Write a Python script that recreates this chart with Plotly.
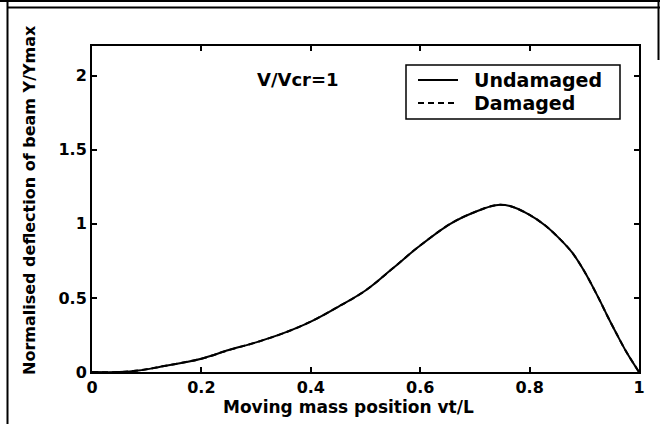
import plotly.graph_objects as go

# data
pos = [0.0, 0.05, 0.085, 0.123, 0.2, 0.25, 0.30, 0.35, 0.40, 0.45, 0.50, 0.55,
       0.597, 0.655, 0.70, 0.738, 0.764, 0.80, 0.828, 0.856, 0.878, 0.90,
       0.926, 0.942, 0.958, 0.977, 1.0]
undamaged = [0.0, 0.0, 0.01, 0.034, 0.09, 0.148, 0.20, 0.262, 0.34, 0.44, 0.55, 0.70,
             0.845, 1.0, 1.08, 1.126, 1.12, 1.06, 0.99, 0.895, 0.805, 0.68,
             0.50, 0.38, 0.265, 0.135, 0.0]
damaged = [0.0, 0.0, 0.01, 0.034, 0.09, 0.148, 0.20, 0.262, 0.34, 0.44, 0.55, 0.70,
           0.845, 1.0, 1.08, 1.126, 1.12, 1.06, 0.99, 0.895, 0.805, 0.68,
           0.50, 0.38, 0.265, 0.135, 0.0]
series_names = ["Undamaged", "Damaged"]
x_ticks = [0, 0.2, 0.4, 0.6, 0.8, 1]
x_tick_text = ["0", "0.2", "0.4", "0.6", "0.8", "1"]
y_ticks = [0, 0.5, 1, 1.5, 2]
y_tick_text = ["0", "0.5", "1", "1.5", "2"]

FONT = "DejaVu Sans"
W, H = 660, 424
L, R, T, B = 92, 639, 46, 372


def px(x):
    return (x - L) / (R - L)


def py(y):
    return (B - y) / (B - T)


fig = go.Figure()
fig.add_trace(go.Scatter(x=pos, y=undamaged, mode="lines", name=series_names[0],
                         line=dict(color="black", width=2, shape="spline", smoothing=1.0)))
fig.add_trace(go.Scatter(x=pos, y=damaged, mode="lines", name=series_names[1],
                         line=dict(color="black", width=2, dash="6px,4px", shape="spline", smoothing=1.0)))

axis_common = dict(showgrid=False, zeroline=False, showline=True, linecolor="black",
                   linewidth=2, mirror="ticks", ticks="inside", ticklen=5,
                   tickwidth=1.5, tickcolor="black",
                   tickfont=dict(family=FONT, size=16, color="black", weight="bold"))

fig.update_xaxes(range=[0, 1], tickvals=x_ticks, ticktext=x_tick_text, **axis_common)
fig.update_yaxes(range=[0, 2.2], tickvals=y_ticks, ticktext=y_tick_text, **axis_common)

legend_font = dict(family=FONT, size=19, color="black", weight="bold")

fig.update_layout(
    width=W, height=H,
    margin=dict(l=L, r=W - R, t=T, b=H - B),
    plot_bgcolor="white", paper_bgcolor="white",
    showlegend=False,
    annotations=[
        dict(text="Moving mass position vt/L", x=px(348), y=py(407), xref="paper", yref="paper",
             showarrow=False, font=dict(family=FONT, size=17, color="black", weight="bold"),
             xanchor="center", yanchor="middle"),
        dict(text="Normalised deflection of beam Y/Ymax", x=px(29), y=py(200), xref="paper", yref="paper",
             showarrow=False, textangle=-90,
             font=dict(family=FONT, size=16, color="black", weight="bold"),
             xanchor="center", yanchor="middle"),
        dict(text="V/Vcr=1", x=px(255), y=py(80), xref="paper", yref="paper",
             showarrow=False, font=dict(family=FONT, size=18, color="black", weight="bold"),
             xanchor="left", yanchor="middle"),
        dict(text=series_names[0], x=px(472), y=py(80), xref="paper", yref="paper",
             showarrow=False, font=legend_font, xanchor="left", yanchor="middle"),
        dict(text=series_names[1], x=px(472), y=py(103), xref="paper", yref="paper",
             showarrow=False, font=legend_font, xanchor="left", yanchor="middle"),
    ],
    shapes=[
        # legend box and keys
        dict(type="rect", xref="paper", yref="paper", x0=px(406), x1=px(620), y0=py(65), y1=py(119),
             line=dict(color="black", width=1.5), fillcolor="white", layer="above"),
        dict(type="line", xref="paper", yref="paper", x0=px(418), x1=px(458), y0=py(80), y1=py(80),
             line=dict(color="black", width=2), layer="above"),
        dict(type="line", xref="paper", yref="paper", x0=px(418), x1=px(458), y0=py(103), y1=py(103),
             line=dict(color="black", width=2, dash="6px,4px"), layer="above"),
        # outer frame
        dict(type="line", xref="paper", yref="paper", x0=px(7.5), x1=px(7.5), y0=py(0), y1=py(424),
             line=dict(color="black", width=2)),
        dict(type="line", xref="paper", yref="paper", x0=px(0), x1=px(660), y0=py(1), y1=py(1),
             line=dict(color="black", width=2)),
        dict(type="line", xref="paper", yref="paper", x0=px(7), x1=px(660), y0=py(7.5), y1=py(7.5),
             line=dict(color="black", width=2)),
        dict(type="line", xref="paper", yref="paper", x0=px(658.5), x1=px(658.5), y0=py(0), y1=py(60),
             line=dict(color="black", width=2)),
    ],
)

fig.write_html("out.html")
